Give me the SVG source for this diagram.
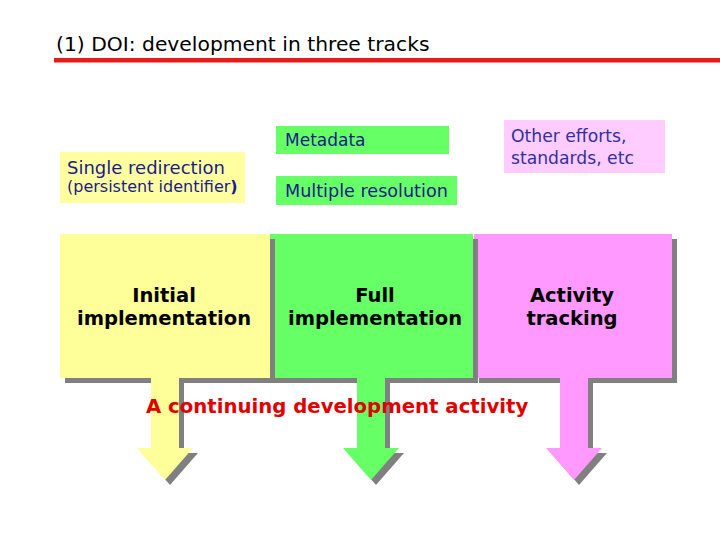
<svg xmlns="http://www.w3.org/2000/svg" xmlns:xlink="http://www.w3.org/1999/xlink" width="720" height="540" viewBox="0 0 720 540">
<style>
.title{font-family:"DejaVu Sans",Verdana,sans-serif;font-size:20.3px;fill:#000}
.lbl{font-family:"DejaVu Sans",Verdana,sans-serif;font-size:17px;fill:#1a1a8a}
.big{font-family:"DejaVu Sans",Verdana,sans-serif;font-size:19.5px;font-weight:bold;fill:#000;text-anchor:middle}
.red{font-family:"DejaVu Sans",Verdana,sans-serif;font-size:19.7px;font-weight:bold;fill:#e00000}
.shadow{fill:#808080}
</style>
<defs>
<path id="shpY" d="M60,234 H270 V378 H179 V448 H193 L165,480 L137,448 H151 V378 H60 Z"/>
<path id="shpG" d="M270,234 H473 V378 H385 V448 H399 L371,480 L343,448 H357 V378 H270 Z"/>
<path id="shpP" d="M474,234 H672 V378 H588 V448 H602 L574,480 L546,448 H560 V378 H474 Z"/>
</defs>
<rect width="720" height="540" fill="#fff"/>
<g id="title">
<text class="title" x="56" y="51">(1) DOI: development in three tracks</text>
<rect x="54" y="58" width="666" height="4.5" fill="#e41b17"/>
</g>
<g id="single-redirection">
<rect x="60" y="152" width="185" height="51" fill="#ffffa0"/>
<text class="lbl" x="67" y="174" style="font-size:18px">Single redirection</text>
<text class="lbl" x="67" y="192" style="font-size:16px">(persistent identifier<tspan font-weight="bold">)</tspan></text>
</g>
<g id="metadata">
<rect x="276" y="126" width="173" height="28" fill="#66ff66"/>
<text class="lbl" x="285" y="146">Metadata</text>
</g>
<g id="multiple-resolution">
<rect x="276" y="176" width="181" height="29" fill="#66ff66"/>
<text class="lbl" x="285" y="197" style="font-size:17.6px">Multiple resolution</text>
</g>
<g id="other-efforts">
<rect x="504" y="120" width="161" height="53" fill="#ffccff"/>
<text class="lbl" x="511" y="142" style="fill:#3030a0;font-size:17.2px">Other efforts,</text>
<text class="lbl" x="511" y="164" style="fill:#3030a0;font-size:17.2px">standards, etc</text>
</g>
<g id="activity-tracking">
<use xlink:href="#shpP" class="shadow" transform="translate(5,5)"/>
<use xlink:href="#shpP" fill="#ff99ff"/>
<text class="big" x="572" y="302">Activity</text>
<text class="big" x="572" y="325">tracking</text>
</g>
<g id="full-implementation">
<use xlink:href="#shpG" class="shadow" transform="translate(5,5)"/>
<use xlink:href="#shpG" fill="#66ff66"/>
<text class="big" x="375" y="302">Full</text>
<text class="big" x="375" y="325">implementation</text>
</g>
<g id="initial-implementation">
<use xlink:href="#shpY" class="shadow" transform="translate(5,5)"/>
<use xlink:href="#shpY" fill="#ffff99"/>
<text class="big" x="164" y="302">Initial</text>
<text class="big" x="164" y="325">implementation</text>
</g>
<g id="connectors"/>
<g id="continuing-label">
<text class="red" x="146" y="413">A continuing development activity</text>
</g>
</svg>
